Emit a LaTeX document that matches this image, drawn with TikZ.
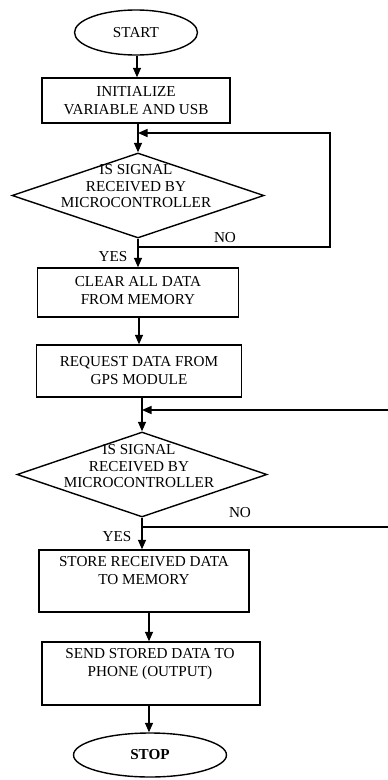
\documentclass[tikz,border=0pt]{standalone}
\usepackage{fontspec}
\setmainfont{Liberation Serif}
\usetikzlibrary{shapes.geometric,arrows.meta}

\tikzset{
  every node/.style={font=\fontsize{15.2}{18}\selectfont, align=center, inner sep=0pt},
  line/.style={line width=1.4pt, draw=black},
  arr/.style={line, -{Triangle[length=9.5pt,width=8pt]}},
  term/.style={ellipse, line, minimum width=#1, minimum height=45pt},
  proc/.style={rectangle, line},
  decision/.style={diamond, line, minimum width=252pt, minimum height=85pt},
  dtext/.style={font=\fontsize{15.2}{16.5}\selectfont},
  lbl/.style={font=\fontsize{15.2}{16}\selectfont}
}

\begin{document}
\begin{tikzpicture}[x=1pt, y=-1pt]
\useasboundingbox[fill=white] (0,0) rectangle (388,780);

% terminals
\node[term=123pt] (start) at (136,32.5) {START};
\node[term=153pt, minimum height=44pt] (stop) at (150,755) {\textbf{STOP}};

% process boxes (frames), with their captions set separately
\node[proc, minimum width=188pt, minimum height=45pt] (init) at (136,100.5) {};
\node at (136,100.5) {INITIALIZE\\VARIABLE AND USB};

\node[proc, minimum width=201pt, minimum height=49pt] (clear) at (138,292.5) {};
\node at (138,291) {CLEAR ALL DATA\\FROM MEMORY};

\node[proc, minimum width=205pt, minimum height=52pt] (request) at (139,371) {};
\node at (139,371) {REQUEST DATA FROM\\GPS MODULE};

\node[proc, minimum width=210pt, minimum height=62pt] (store) at (144,581) {};
\node at (144,571) {STORE RECEIVED DATA\\TO MEMORY};

\node[proc, minimum width=218pt, minimum height=63pt] (send) at (151,673.5) {};
\node at (150,664) {SEND STORED DATA TO\\PHONE (OUTPUT)};

% decisions
\node[decision] (d1) at (138,195.5) {};
\node[dtext] at (136,186.5) {IS SIGNAL\\RECEIVED BY\\MICROCONTROLLER};

\node[decision, minimum width=250pt] (d2) at (142,474.5) {};
\node[dtext] at (139,466.5) {IS SIGNAL\\RECEIVED BY\\MICROCONTROLLER};

% guide columns for the vertical arrows
\coordinate (c1) at (137,0);
\coordinate (c3) at (139,0);
\coordinate (c5) at (149,0);

% loop points
\coordinate (j1) at (138,133);
\coordinate (n1) at (138,247);
\coordinate (r1t) at (330,133);
\coordinate (r1b) at (330,247);
\coordinate (j2) at (142,410);
\coordinate (n2) at (142,527);
\coordinate (e2t) at (388,410);
\coordinate (e2b) at (388,527);

% main flow
\draw[arr] (start.south -| c1) -- (init.north -| c1);
\draw[arr] (d1.north |- init.south) -- (d1.north);
\draw[arr] (d1.south) -- (d1.south |- clear.north);
\draw[arr] (clear.south -| c3) -- (request.north -| c3);
\draw[arr] (d2.north |- request.south) -- (d2.north);
\draw[arr] (d2.south) -- (d2.south |- store.north);
\draw[arr] (store.south -| c5) -- (send.north -| c5);
\draw[arr] (send.south -| c5) -- (stop.north -| c5);

% loop-back paths
\draw[arr] (n1) -- (r1b) -- (r1t) -- (j1);
\draw[arr] (e2t) -- (j2);
\draw[line] (n2) -- (e2b);

% branch labels
\node[lbl] (no1) at (225,238) {NO};
\node[lbl] (yes1) at (113,257) {YES};
\node[lbl] (no2) at (240,513) {NO};
\node[lbl] (yes2) at (117,537) {YES};
\end{tikzpicture}
\end{document}
